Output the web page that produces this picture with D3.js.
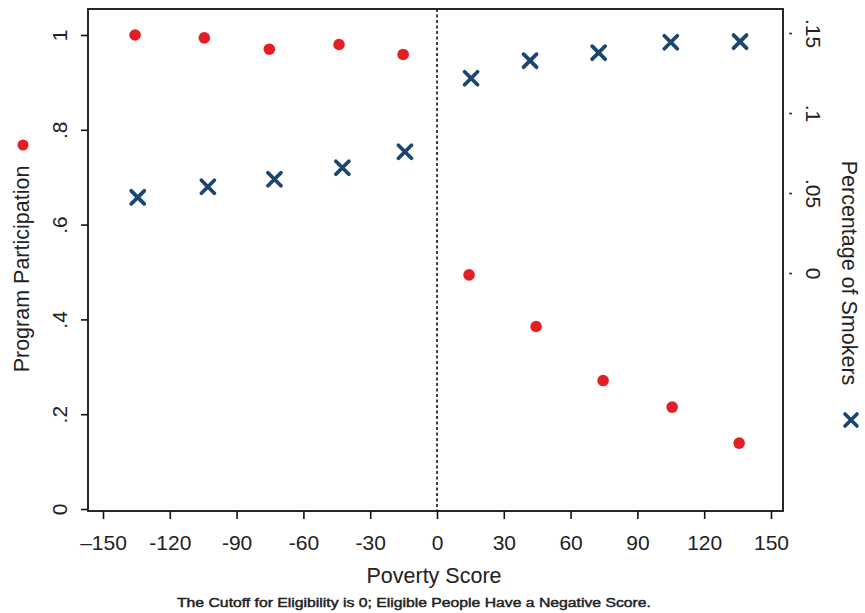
<!DOCTYPE html>
<html><head><meta charset="utf-8">
<script src="https://cdn.jsdelivr.net/npm/d3@7"></script>
<style>body{margin:0;background:#fff}svg{display:block}text{font-family:"Liberation Sans",Arial,sans-serif;fill:#222}</style>
</head><body><svg id="c" width="865" height="613"></svg>
<script>
const partX = [-135.6, -104.5, -75.3, -44.0, -15.2, 14.4, 44.5, 74.6, 105.6, 135.7];
const partY = [1.0, 0.994, 0.970, 0.980, 0.959, 0.494, 0.385, 0.271, 0.215, 0.139];
const smokeX = [-134.4, -102.9, -73.0, -42.5, -14.4, 15.3, 41.8, 72.6, 105.0, 136.1];
const smokeY = [0.0473, 0.0539, 0.0586, 0.0658, 0.0758, 0.1217, 0.1327, 0.1377, 0.1442, 0.1446];
const xTicks = [-150, -120, -90, -60, -30, 0, 30, 60, 90, 120, 150];
const xTickLabels = ["\u2013150", "-120", "-90", "-60", "-30", "0", "30", "60", "90", "120", "150"];
const yLTicks = [0, 0.2, 0.4, 0.6, 0.8, 1];
const yLTickLabels = ["0", ".2", ".4", ".6", ".8", "1"];
const yRTicks = [0, 0.05, 0.1, 0.15];
const yRTickLabels = ["0", ".05", ".1", ".15"];

const svg = d3.select("#c");
const L = 88, R = 783, T = 9, B = 511;
const x = d3.scaleLinear().domain([-150, 150]).range([103, 771]);
const yL = d3.scaleLinear().domain([0, 1]).range([509, 35]);
const yR = d3.scaleLinear().domain([0, 0.15]).range([273, 33]);
const red = "#e51e25", blue = "#1b4670";

// dashed cutoff line
svg.append("line").attr("x1", x(0)).attr("x2", x(0)).attr("y1", T).attr("y2", B)
  .attr("stroke", "#111").attr("stroke-width", 1.6).attr("stroke-dasharray", "3,2.5");

// frame
svg.append("rect").attr("x", L).attr("y", T).attr("width", R - L).attr("height", B - T)
  .attr("fill", "none").attr("stroke", "#111").attr("stroke-width", 1.8);

// x axis
const gx = svg.append("g").attr("transform", `translate(0,${B})`)
  .call(d3.axisBottom(x).tickValues(xTicks).tickSize(8).tickPadding(16)
    .tickFormat((d, i) => xTickLabels[i]));
gx.select(".domain").remove();
gx.selectAll("line").attr("stroke", "#111").attr("stroke-width", 1.6);
gx.selectAll("text").attr("font-size", 21).style("fill", "#222");

// left axis
const gl = svg.append("g").attr("transform", `translate(${L},0)`)
  .call(d3.axisLeft(yL).tickValues(yLTicks).tickSize(7).tickFormat((d, i) => yLTickLabels[i]));
gl.select(".domain").remove();
gl.selectAll("line").attr("stroke", "#111").attr("stroke-width", 1.6);
gl.selectAll("text").attr("font-size", 21).style("fill", "#222")
  .attr("text-anchor", "middle").attr("x", 0).attr("dy", 0)
  .attr("transform", "translate(-21,0) rotate(-90)");

// right axis
const gr = svg.append("g").attr("transform", `translate(${R},0)`)
  .call(d3.axisRight(yR).tickValues(yRTicks).tickSize(0).tickFormat((d, i) => yRTickLabels[i]));
gr.select(".domain").remove();
gr.selectAll(".tick").append("line").attr("x1", 6).attr("x2", 9).attr("y1", 0).attr("y2", 0)
  .attr("stroke", "#333").attr("stroke-width", 1.6);
gr.selectAll("text").attr("font-size", 21).style("fill", "#222")
  .attr("text-anchor", "middle").attr("x", 0).attr("dy", 0)
  .attr("transform", "translate(23,0) rotate(90)");

// axis titles
svg.append("text").attr("transform", "translate(29,269) rotate(-90)")
  .attr("text-anchor", "middle").attr("font-size", 21.5).text("Program Participation");
svg.append("circle").attr("cx", 23).attr("cy", 145).attr("r", 5.5).attr("fill", red);

svg.append("text").attr("transform", "translate(842,273) rotate(90)")
  .attr("text-anchor", "middle").attr("font-size", 21.5).text("Percentage of Smokers");
svg.append("path").attr("transform", "translate(851,420)")
  .attr("d", "M-6,-6L6,6M-6,6L6,-6").attr("stroke", blue).attr("stroke-width", 3.6)
  .attr("stroke-linecap", "round");

svg.append("text").attr("x", 434).attr("y", 583).attr("text-anchor", "middle")
  .attr("font-size", 21.5).text("Poverty Score");
svg.append("text").attr("x", 414).attr("y", 607).attr("text-anchor", "middle")
  .attr("font-size", 12.5).attr("textLength", 474).attr("lengthAdjust", "spacingAndGlyphs")
  .style("fill", "#222").attr("stroke", "#222").attr("stroke-width", 0.45)
  .text("The Cutoff for Eligibility is 0; Eligible People Have a Negative Score.");

// points
svg.append("g").selectAll("circle").data(partX).join("circle")
  .attr("cx", d => x(d)).attr("cy", (d, i) => yL(partY[i])).attr("r", 5.8).attr("fill", red);
svg.append("g").selectAll("path").data(smokeX).join("path")
  .attr("transform", (d, i) => `translate(${x(d)},${yR(smokeY[i])})`)
  .attr("d", "M-6.5,-6.5L6.5,6.5M-6.5,6.5L6.5,-6.5").attr("stroke", blue)
  .attr("stroke-width", 3.8).attr("stroke-linecap", "round");
</script></body></html>
